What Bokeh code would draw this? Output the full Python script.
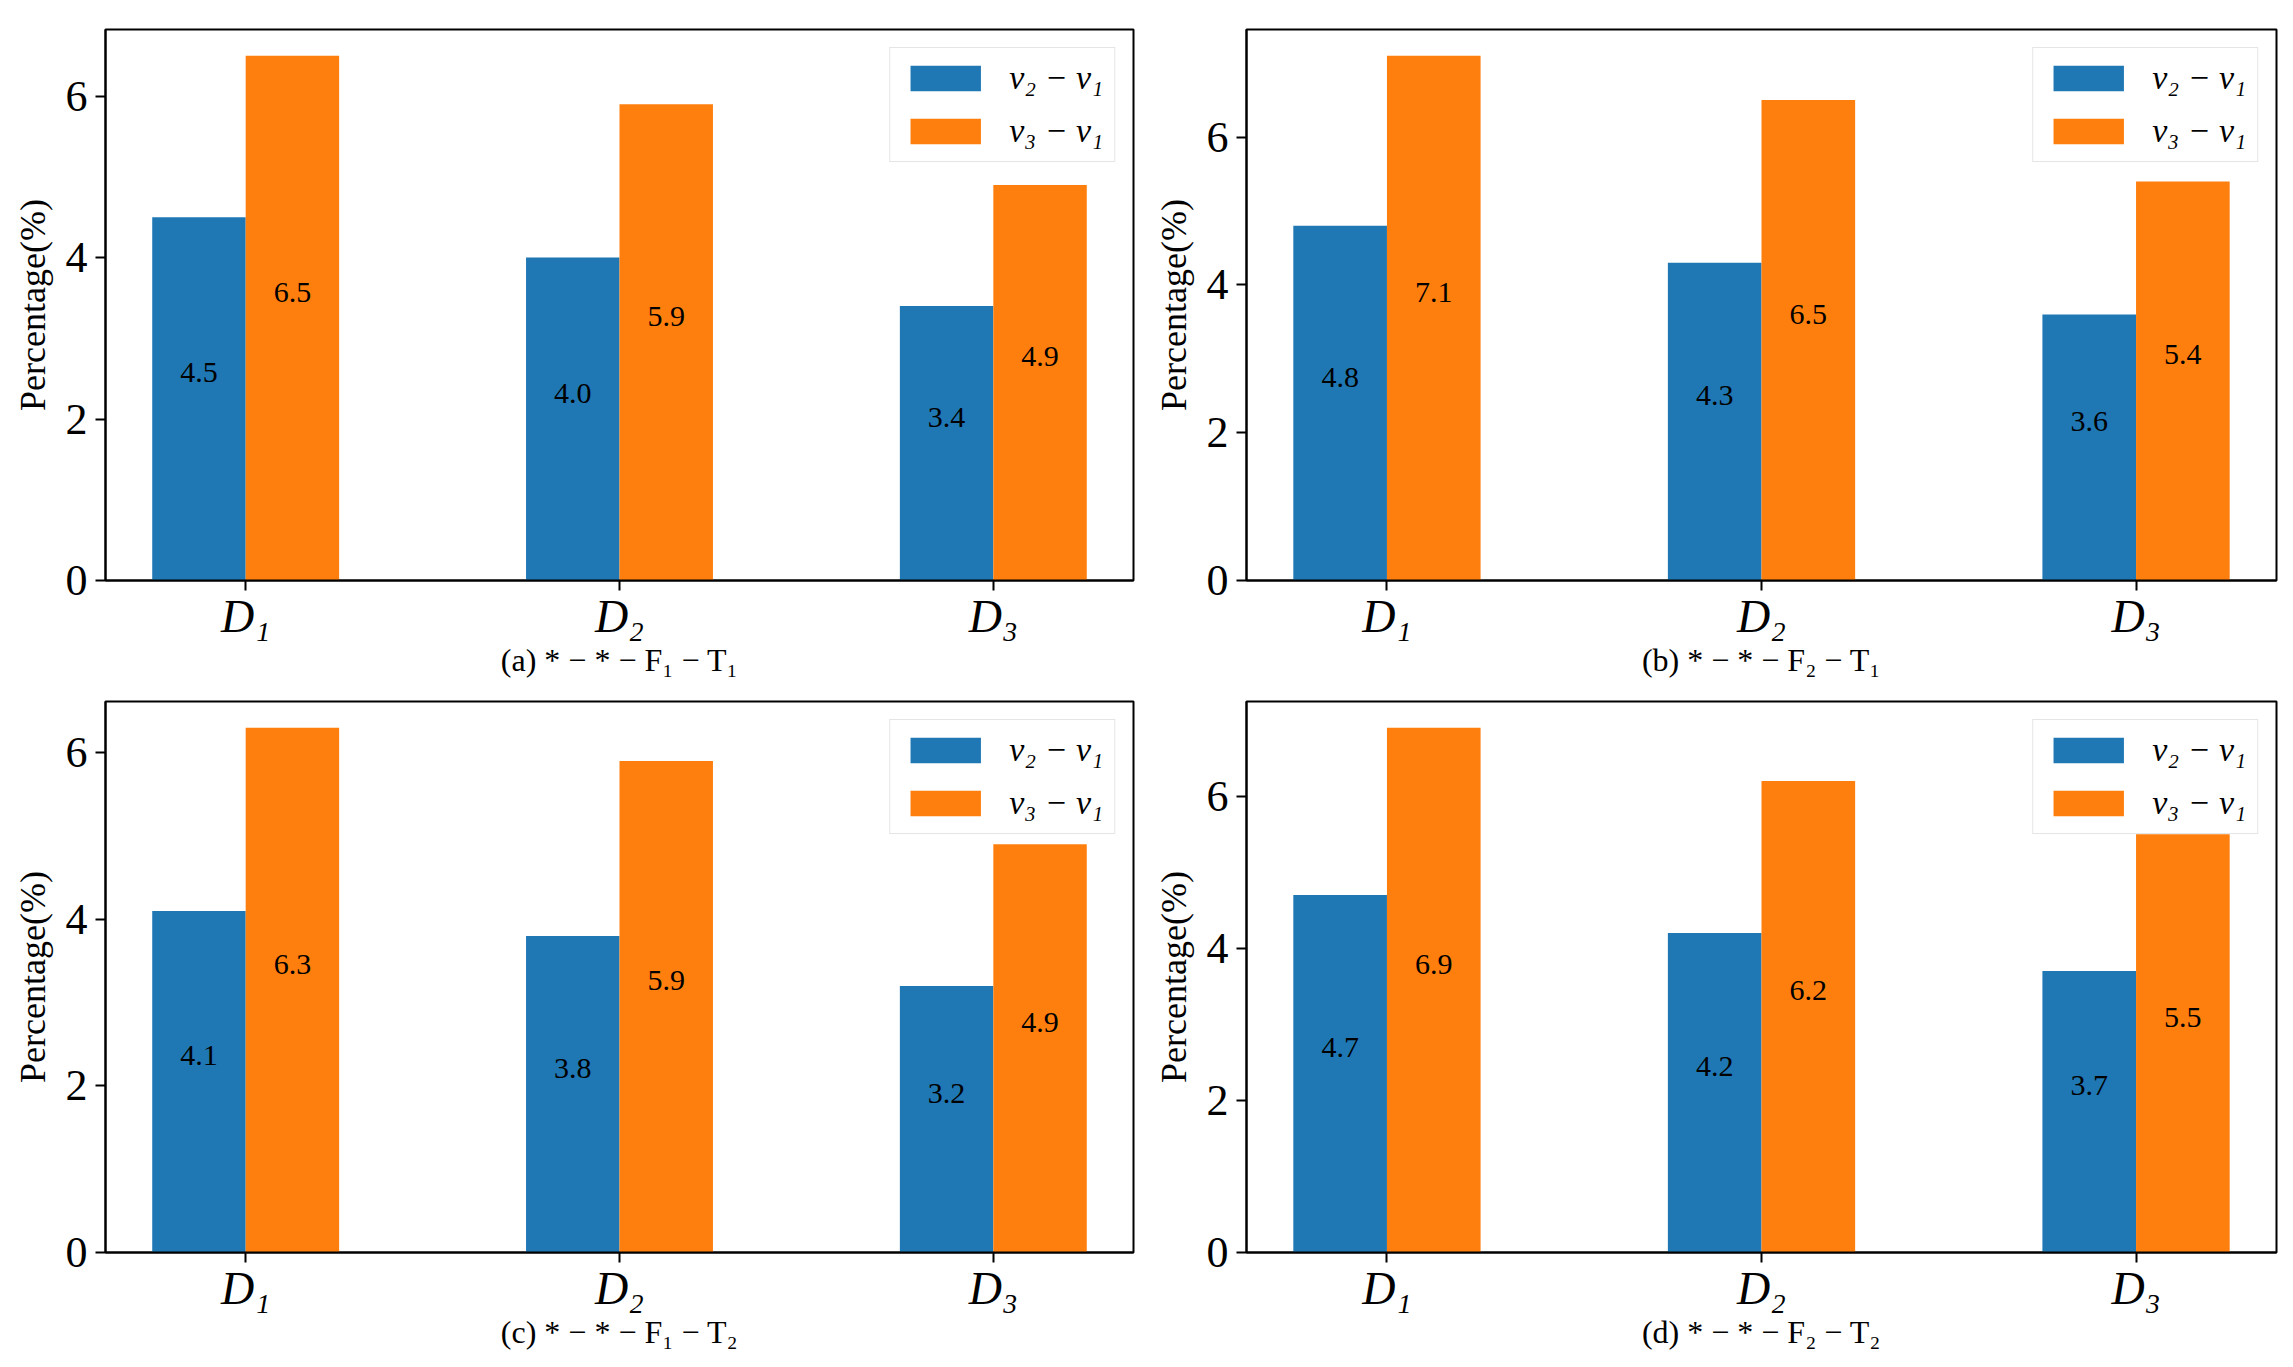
from bokeh.plotting import figure
from bokeh.layouts import gridplot
from bokeh.models import FixedTicker, Range1d, ColumnDataSource
from bokeh.embed import file_html
from bokeh.resources import INLINE
from bokeh.core.properties import value

# ---- data ----
categories = ["D₁", "D₂", "D₃"]
series_names = ["v₂ − v₁", "v₃ − v₁"]
captions = ["(a) * − * − F₁ − T₁", "(b) * − * − F₂ − T₁",
            "(c) * − * − F₁ − T₂", "(d) * − * − F₂ − T₂"]
a_v2 = [4.5, 4.0, 3.4]
a_v3 = [6.5, 5.9, 4.9]
b_v2 = [4.8, 4.3, 3.6]
b_v3 = [7.1, 6.5, 5.4]
c_v2 = [4.1, 3.8, 3.2]
c_v3 = [6.3, 5.9, 4.9]
d_v2 = [4.7, 4.2, 3.7]
d_v3 = [6.9, 6.2, 5.5]
y_ticks = [0, 2, 4, 6]
y_label = "Percentage(%)"

panels = [(a_v2, a_v3), (b_v2, b_v3), (c_v2, c_v3), (d_v2, d_v3)]

BLUE = "#1f77b4"
ORANGE = "#ff7f0e"
FONT = "Liberation Serif"
BAR_W = 0.25


def make_panel(idx, v2, v3):
    left_col = idx % 2 == 0
    top_row = idx < 2
    w = 1149 if left_col else 1135
    top_b = 29 if top_row else 11
    h = top_b + 551 + 110
    p = figure(width=w, height=h, output_backend="svg", toolbar_location=None,
               x_range=Range1d(-0.375, 2.375),
               y_range=Range1d(0, max(v3) * 1.05))
    p.min_border_left = 105 if left_col else 97
    p.min_border_right = 16 if left_col else 8
    p.min_border_top = top_b
    p.min_border_bottom = 110
    p.background_fill_color = "white"
    p.border_fill_color = "white"
    p.outline_line_color = "black"
    p.outline_line_width = 2
    p.xgrid.visible = False
    p.ygrid.visible = False

    xs = list(range(len(categories)))
    x_blue = [x - BAR_W / 2 for x in xs]
    x_orange = [x + BAR_W / 2 for x in xs]
    p.vbar(x=x_blue, top=v2, width=BAR_W, color=BLUE, line_color=None,
           legend_label=series_names[0])
    p.vbar(x=x_orange, top=v3, width=BAR_W, color=ORANGE, line_color=None,
           legend_label=series_names[1])

    for xx, vals in ((x_blue, v2), (x_orange, v3)):
        src = ColumnDataSource(dict(x=xx, y=[v / 2 for v in vals],
                                    t=["%.1f" % v for v in vals]))
        p.text(x="x", y="y", text="t", source=src, text_align="center",
               text_baseline="middle", y_offset=-26, text_font=value(FONT),
               text_font_size="30px", text_color="black")

    # axes
    for ax in (p.xaxis[0], p.yaxis[0]):
        ax.axis_line_width = 2
        ax.axis_line_color = "black"
        ax.major_tick_line_width = 2
        ax.major_tick_out = 10
        ax.major_tick_in = 0
        ax.minor_tick_out = 0
        ax.minor_tick_in = 0
        ax.major_label_text_font = FONT
        ax.axis_label_text_font = FONT
        ax.axis_label_text_font_style = "normal"
        ax.major_label_text_color = "black"
        ax.axis_label_text_color = "black"

    p.xaxis.ticker = FixedTicker(ticks=xs)
    p.xaxis.major_label_overrides = {i: c for i, c in enumerate(categories)}
    p.xaxis.major_label_text_font_size = "46px"
    p.xaxis.major_label_text_font_style = "italic"
    p.xaxis.major_label_standoff = 0
    p.xaxis.axis_label = captions[idx]
    p.xaxis.axis_label_text_font_size = "32px"
    p.xaxis.axis_label_standoff = -3

    p.yaxis.ticker = FixedTicker(ticks=y_ticks)
    p.yaxis.major_label_text_font_size = "44px"
    p.yaxis.major_label_standoff = 8
    p.yaxis.axis_label = y_label
    p.yaxis.axis_label_text_font_size = "36px"
    p.yaxis.axis_label_standoff = 10

    lg = p.legend[0]
    lg.location = "top_right"
    lg.margin = 18
    lg.padding = 11
    lg.spacing = 15
    lg.glyph_width = 88
    lg.glyph_height = 32
    lg.label_standoff = 20
    lg.label_text_font = FONT
    lg.label_text_font_style = "italic"
    lg.label_text_font_size = "34px"
    lg.label_text_color = "black"
    lg.border_line_color = "#cccccc"
    lg.border_line_width = 1.5
    lg.background_fill_color = "white"
    lg.background_fill_alpha = 0.8
    return p


figs = [make_panel(i, v2, v3) for i, (v2, v3) in enumerate(panels)]
grid = gridplot([[figs[0], figs[1]], [figs[2], figs[3]]], toolbar_location=None)

open("out.html", "w").write(file_html(grid, INLINE))
